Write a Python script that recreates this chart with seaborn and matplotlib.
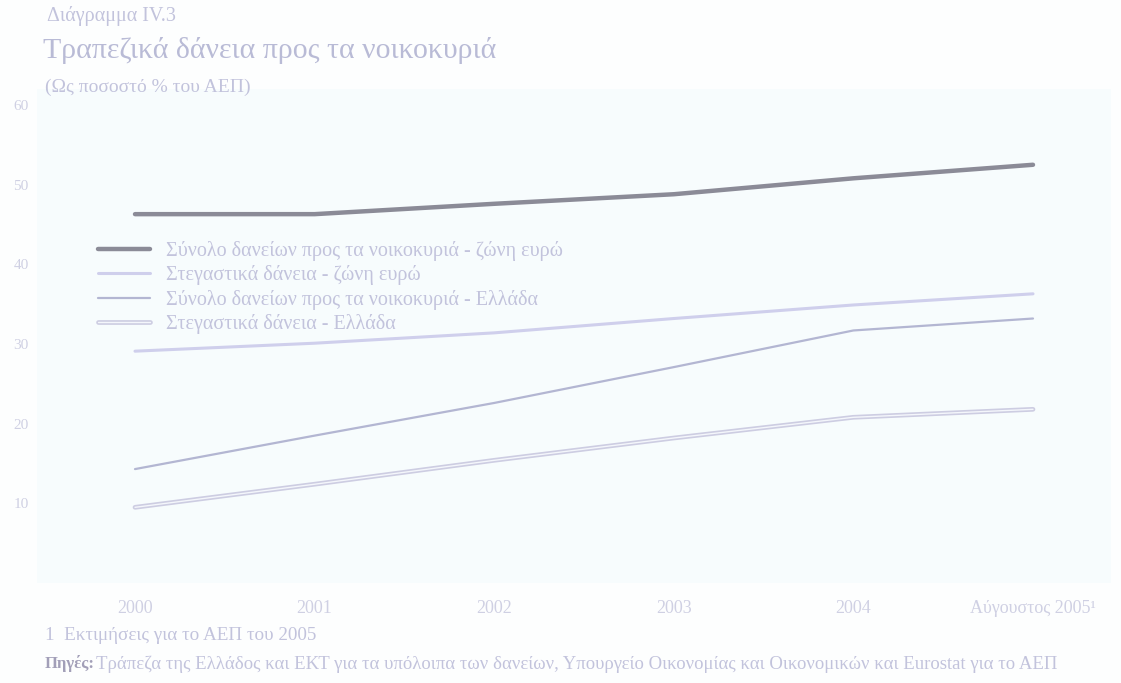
import matplotlib
matplotlib.use("Agg")
import matplotlib.pyplot as plt
import matplotlib.patheffects as pe
from matplotlib.lines import Line2D
import pandas as pd
import seaborn as sns

# Data: household bank loans, % of GDP
periods = ["2000", "2001", "2002", "2003", "2004", "Αύγουστος 2005¹"]
total_euro = [46.3, 46.3, 47.6, 48.8, 50.8, 52.5]
housing_euro = [29.1, 30.1, 31.4, 33.2, 34.9, 36.3]
total_greece = [14.3, 18.5, 22.6, 27.1, 31.7, 33.2]
housing_greece = [9.5, 12.4, 15.4, 18.2, 20.8, 21.8]

series_names = [
    "Σύνολο δανείων προς τα νοικοκυριά - ζώνη ευρώ",
    "Στεγαστικά δάνεια - ζώνη ευρώ",
    "Σύνολο δανείων προς τα νοικοκυριά - Ελλάδα",
    "Στεγαστικά δάνεια - Ελλάδα",
]
yticks = [10, 20, 30, 40, 50, 60]

sns.set_theme(style="white")
plt.rcParams["font.family"] = ["Liberation Serif", "DejaVu Serif"]

TEXT = "#c2c3dc"
TICK = "#cfd0e3"

rows = []
for name, vals in zip(series_names, [total_euro, housing_euro, total_greece, housing_greece]):
    for i, v in enumerate(vals):
        rows.append({"pos": i, "value": v, "series": name})
df = pd.DataFrame(rows)

W, H = 1121, 683
fig = plt.figure(figsize=(W / 100, H / 100), dpi=100, facecolor="#fdfefe")
left_px, right_px, top_px, bottom_px = 37, 1111, 89, 583
ax = fig.add_axes([left_px / W, 1 - bottom_px / H,
                   (right_px - left_px) / W, (bottom_px - top_px) / H])
ax.set_facecolor("#f7fcfd")

styles = {
    series_names[0]: dict(color="#8b8b97", lw=3.2, effects=None),
    series_names[1]: dict(color="#cfcfec", lw=2.2, effects=None),
    series_names[2]: dict(color="#b3b6d2", lw=1.6, effects=None),
    series_names[3]: dict(color="#f4f6fb", lw=1.0,
                          effects=[pe.Stroke(linewidth=3.4, foreground="#cdcde2"), pe.Normal()]),
}

for name in series_names:
    st = styles[name]
    sub = df[df["series"] == name]
    sns.lineplot(data=sub, x="pos", y="value", ax=ax, color=st["color"],
                 linewidth=st["lw"], legend=False,
                 path_effects=st["effects"])

# x scale: 2000 at px 135, Aug 2005 at px 1033
unit = (1033 - 135) / 5
ax.set_xlim(-(135 - left_px) / unit, 5 + (right_px - 1033) / unit)
unit_y = 79.6 / 10
ax.set_ylim(0, 60 + (105 - top_px) / unit_y)

ax.set_xticks(range(len(periods)))
ax.set_xticklabels(periods, fontsize=13, color=TICK)
ax.set_yticks(yticks)
ax.set_yticklabels([str(t) for t in yticks], fontsize=11, color=TICK)
ax.tick_params(axis="x", length=0, pad=12)
ax.tick_params(axis="y", length=0, pad=6)
ax.set_xlabel("")
ax.set_ylabel("")
for s in ax.spines.values():
    s.set_visible(False)

handles = []
for name in series_names:
    st = styles[name]
    handles.append(Line2D([0], [0], color=st["color"], lw=st["lw"],
                          path_effects=st["effects"]))
leg = ax.legend(handles, series_names, loc="upper left",
                bbox_to_anchor=((90 - left_px) / (right_px - left_px),
                                1 - (233 - top_px) / (bottom_px - top_px)),
                frameon=False, fontsize=14.5, handlelength=2.6,
                handletextpad=0.75, labelspacing=0.22, borderaxespad=0)
for t in leg.get_texts():
    t.set_color(TEXT)

fig.text(47 / W, 1 - 16 / H, "Διάγραμμα IV.3", fontsize=14.5, color=TEXT, va="center")
fig.text(43 / W, 1 - 50 / H, "Τραπεζικά δάνεια προς τα νοικοκυριά",
         fontsize=21.5, color="#b9bbd6", va="center")
fig.text(45 / W, 1 - 87 / H, "(Ως ποσοστό % του ΑΕΠ)", fontsize=14, color=TEXT, va="center")
fig.text(45 / W, 1 - 635 / H, "1  Εκτιμήσεις για το ΑΕΠ του 2005", fontsize=13.8,
         color=TEXT, va="center")
fig.text(45 / W, 1 - 664 / H, "Πηγές:", fontsize=12, color="#a29fb8",
         fontweight="bold", va="center")
fig.text(96 / W, 1 - 664 / H,
         "Τράπεζα της Ελλάδος και ΕΚΤ για τα υπόλοιπα των δανείων, "
         "Υπουργείο Οικονομίας και Οικονομικών και Eurostat για το ΑΕΠ",
         fontsize=13.5, color=TEXT, va="center")

fig.savefig("out.png", dpi=100, facecolor=fig.get_facecolor())
